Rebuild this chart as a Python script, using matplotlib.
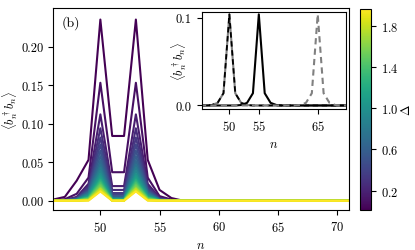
import numpy as np
import matplotlib
matplotlib.use("Agg")
import matplotlib.pyplot as plt
from matplotlib import cm, colors

plt.rcParams.update({
    "font.family": "serif",
    "font.serif": ["cmr10"],
    "mathtext.fontset": "cm",
    "axes.formatter.use_mathtext": True,
    "font.size": 9,
})

# ---------------- data ----------------
sites = np.arange(46, 72)

delta = [0.01, 0.09, 0.17, 0.25, 0.33, 0.41, 0.50, 0.58, 0.66, 0.74, 0.82, 0.90,
         0.99, 1.07, 1.15, 1.23, 1.31, 1.39, 1.48, 1.56, 1.64, 1.72, 1.80, 1.88, 1.97]
peak = [0.235, 0.153, 0.112, 0.094, 0.082, 0.073, 0.065, 0.058, 0.052, 0.047, 0.043,
        0.039, 0.035, 0.032, 0.029, 0.027, 0.025, 0.023, 0.021, 0.019, 0.017, 0.016,
        0.015, 0.013, 0.012]
plateau = [0.084, 0.037, 0.019, 0.014, 0.010, 0.008, 0.006, 0.005, 0.004, 0.0035,
           0.003, 0.0025, 0.002, 0.0018, 0.0015, 0.0012, 0.001, 0.0008, 0.0006, 0.0005,
           0.0004, 0.0003, 0.0002, 0.0001, 0.0]
shoulder = [0.053, 0.030, 0.022, 0.019, 0.017, 0.015, 0.013, 0.012, 0.011, 0.010,
            0.009, 0.008, 0.007, 0.006, 0.0052, 0.0045, 0.004, 0.0034, 0.0028, 0.0022,
            0.0017, 0.0012, 0.0008, 0.0005, 0.0002]
outer_left = [0.026, 0.009, 0.005, 0.004, 0.0035, 0.003, 0.0025, 0.002, 0.0018, 0.0015,
              0.0013, 0.0011, 0.001, 0.0008, 0.0007, 0.0006, 0.0005, 0.0004, 0.0003,
              0.0002, 0.0002, 0.0001, 0.0001, 0.0, 0.0]
outer_right = [0.014, 0.006, 0.004, 0.003, 0.0025, 0.002, 0.0018, 0.0015, 0.0013, 0.0011,
               0.001, 0.0009, 0.0008, 0.0007, 0.0006, 0.0005, 0.0004, 0.0003, 0.0002,
               0.0002, 0.0001, 0.0001, 0.0, 0.0, 0.0]
far_left = [0.005, 0.002, 0.001] + [0.0005] * 6 + [0.0] * 16
far_right = [0.0035, 0.0015, 0.0008] + [0.0004] * 6 + [0.0] * 16
edge = [0.0015, 0.0005] + [0.0] * 23

# inset data
inset_sites = np.arange(45, 71)
profile_offsets = [-3, -2, -1, 0, 1, 2, 3]
profile_values = [0.0005, 0.003, 0.014, 0.104, 0.014, 0.003, 0.0005]
center_black_solid = 55
center_black_dashed = 50
center_grey_solid = 50
center_grey_dashed = 65


def peak_profile(center):
    y = np.zeros(len(inset_sites))
    for off, v in zip(profile_offsets, profile_values):
        idx = np.where(inset_sites == center + off)[0]
        if len(idx):
            y[idx[0]] = v
    return y


def build_curve(i):
    y = np.zeros(len(sites))
    vals = {46: edge[i], 47: far_left[i], 48: outer_left[i], 49: shoulder[i],
            50: peak[i], 51: plateau[i], 52: plateau[i], 53: peak[i],
            54: shoulder[i], 55: outer_right[i], 56: far_right[i]}
    for k, v in vals.items():
        y[sites == k] = v
    return y


# ---------------- figure ----------------
fig = plt.figure(figsize=(4.15, 2.51), dpi=100)
ax = fig.add_axes([0.1277, 0.1594, 0.7133, 0.8048])
cax = fig.add_axes([0.8675, 0.1594, 0.0265, 0.801])
axin = fig.add_axes([0.486, 0.5618, 0.3477, 0.3876])

norm = colors.Normalize(vmin=0.01, vmax=1.97)
cmap = plt.get_cmap("viridis")

for i, d in enumerate(delta):
    ax.plot(sites, build_curve(i), color=cmap(norm(d)), lw=1.5)

ax.set_xlim(46, 71)
ax.set_ylim(-0.012, 0.25)
ax.set_xticks([50, 55, 60, 65, 70])
ax.set_yticks([0.0, 0.05, 0.10, 0.15, 0.20])
ax.set_yticklabels(["0.00", "0.05", "0.10", "0.15", "0.20"])
ax.set_xlabel(r"$n$")
ax.set_ylabel(r"$\langle b_n^\dagger b_n\rangle$")
ax.yaxis.set_label_coords(-0.112, 0.5)
ax.text(0.03, 0.93, "(b)", transform=ax.transAxes, fontsize=10, va="center")

sm = cm.ScalarMappable(norm=norm, cmap=cmap)
cb = fig.colorbar(sm, cax=cax)
cb.set_ticks([0.2, 0.6, 1.0, 1.4, 1.8])
cb.set_label(r"$\Delta$")
cb.ax.yaxis.set_label_coords(3.6, 0.5)
cb.outline.set_linewidth(0.8)

# inset
axin.plot(inset_sites, peak_profile(center_grey_solid), color="gray", lw=1.5, ls="-")
axin.plot(inset_sites, peak_profile(center_black_solid), color="black", lw=1.5, ls="-")
axin.plot(inset_sites, peak_profile(center_black_dashed), color="black", lw=1.3, ls=(0, (3, 2)))
axin.plot(inset_sites, peak_profile(center_grey_dashed), color="gray", lw=1.5, ls=(0, (3, 2)))
axin.set_xlim(45.3, 69.8)
axin.set_ylim(-0.004, 0.107)
axin.set_xticks([50, 55, 65])
axin.set_yticks([0.0, 0.1])
axin.set_yticklabels(["0.0", "0.1"])
axin.set_xlabel(r"$n$")
axin.set_ylabel(r"$\langle b_n^\dagger b_n\rangle$")
axin.yaxis.set_label_coords(-0.09, 0.5)

fig.savefig("out.png", dpi=100)
